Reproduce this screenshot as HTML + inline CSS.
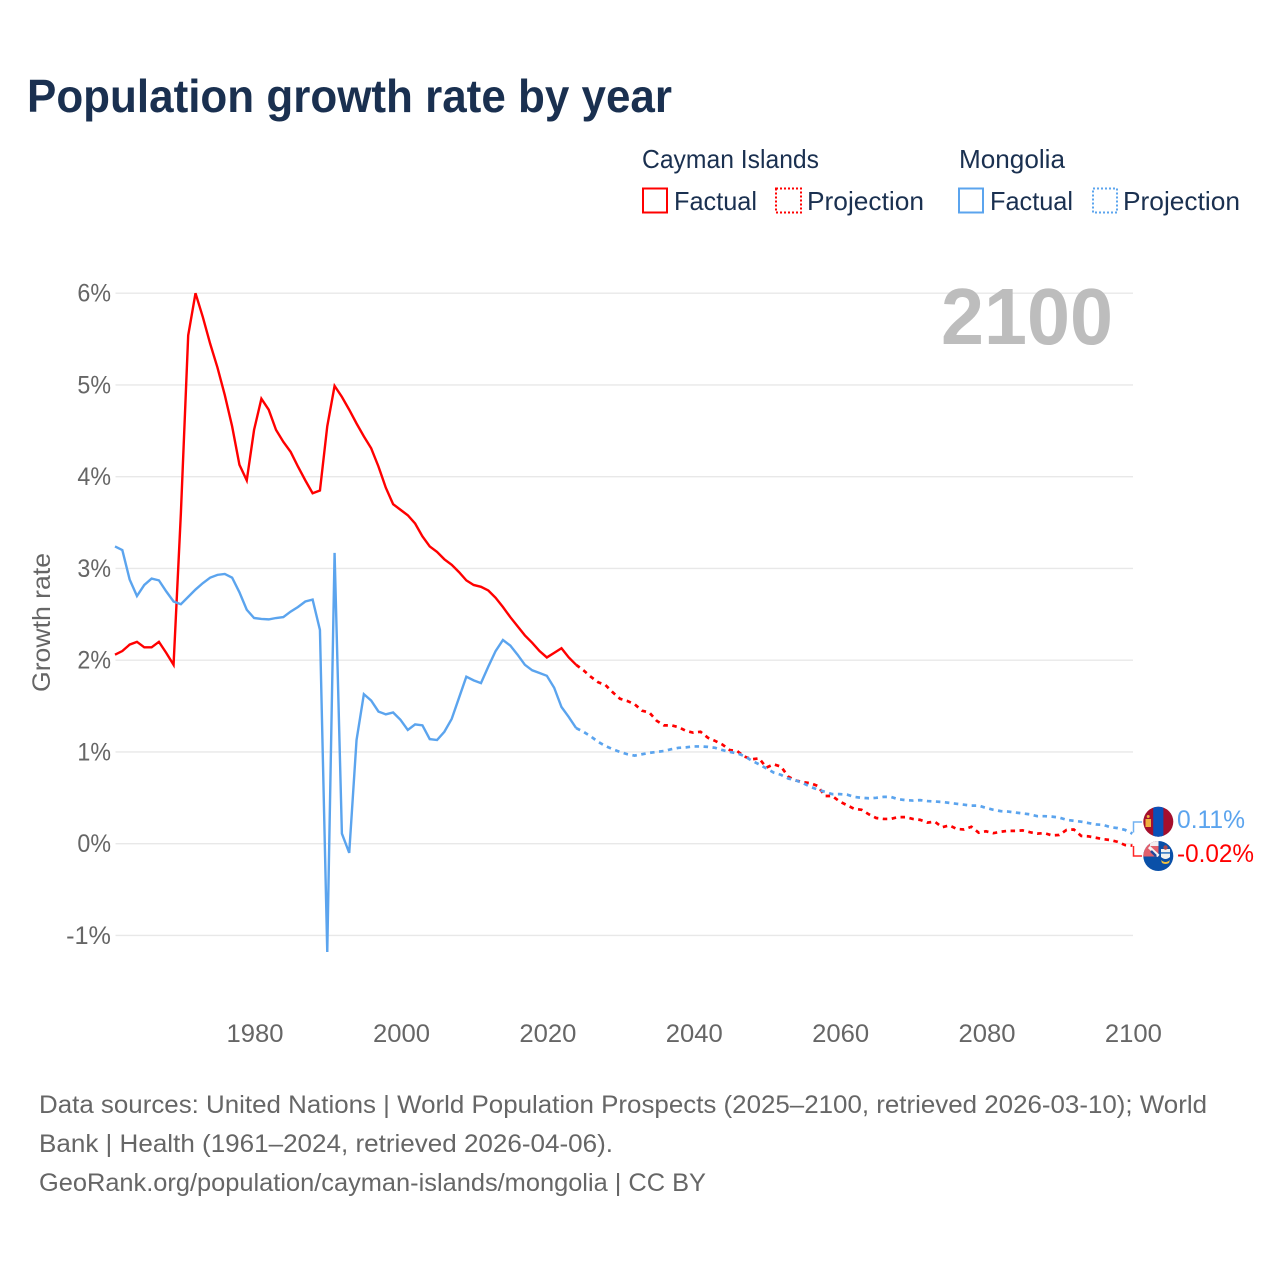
<!DOCTYPE html>
<html lang="en">
<head>
<meta charset="utf-8">
<title>Population growth rate by year</title>
<style>
html,body{margin:0;padding:0;background:#fff;width:1280px;height:1280px;overflow:hidden}
svg{display:block;font-family:"Liberation Sans",sans-serif}
</style>
</head>
<body>
<svg id="chart" xmlns="http://www.w3.org/2000/svg" width="1280" height="1280" viewBox="0 0 1280 1280">
  <rect width="1280" height="1280" fill="#fff"/>
  <text x="27" y="112" font-size="46" font-weight="700" fill="#1a3050" textLength="645" lengthAdjust="spacingAndGlyphs">Population growth rate by year</text>

  <g font-size="26" fill="#1a3050">
    <text x="642" y="168" textLength="177" lengthAdjust="spacingAndGlyphs">Cayman Islands</text>
    <text x="959" y="168" textLength="106" lengthAdjust="spacingAndGlyphs">Mongolia</text>
    <rect x="643" y="188.5" width="24" height="24" fill="none" stroke="#ff0000" stroke-width="2"/>
    <text x="674" y="210" textLength="83" lengthAdjust="spacingAndGlyphs">Factual</text>
    <rect x="776" y="188.5" width="25" height="24" fill="none" stroke="#ff0000" stroke-width="2" stroke-dasharray="2 2"/>
    <text x="807" y="210" textLength="117" lengthAdjust="spacingAndGlyphs">Projection</text>
    <rect x="959" y="188.5" width="24" height="24" fill="none" stroke="#5ba4ee" stroke-width="2"/>
    <text x="990" y="210" textLength="83" lengthAdjust="spacingAndGlyphs">Factual</text>
    <rect x="1093" y="188.5" width="24" height="24" fill="none" stroke="#5ba4ee" stroke-width="2" stroke-dasharray="2 2"/>
    <text x="1123" y="210" textLength="117" lengthAdjust="spacingAndGlyphs">Projection</text>
  </g>

  <g id="grid"></g>
  <g id="y-ticks" font-size="25" fill="#666"></g>
  <g id="x-ticks" font-size="25" fill="#666"></g>
  <text transform="translate(50 692) rotate(-90)" font-size="25" fill="#666" textLength="139" lengthAdjust="spacingAndGlyphs">Growth rate</text>
  <text x="941" y="344" font-size="80" font-weight="700" fill="#bdbdbd" textLength="172" lengthAdjust="spacingAndGlyphs">2100</text>

  <g id="series"></g>

  <path d="M1133.5 832.5V822H1142" fill="none" stroke="#5ba4ee" stroke-width="1.5" opacity=".85"/>
  <path d="M1133.5 846V856H1142" fill="none" stroke="#ff0000" stroke-width="1.5" opacity=".85"/>

  <defs>
    <clipPath id="clip-mn"><circle cx="1158.3" cy="821.7" r="15"/></clipPath>
    <clipPath id="clip-ky"><circle cx="1158.3" cy="856" r="15"/></clipPath>
  </defs>
  <g clip-path="url(#clip-mn)">
    <rect x="1143" y="806" width="31" height="31" fill="#a50f2d"/>
    <rect x="1153.2" y="806" width="10.2" height="31" fill="#0a50b8"/>
    <rect x="1145.5" y="819" width="5.5" height="8" fill="#f0b040"/>
    <circle cx="1148.2" cy="816.5" r="1.5" fill="#f0b040"/>
  </g>
  <g clip-path="url(#clip-ky)">
    <rect x="1143" y="841" width="31" height="31" fill="#0a50a8"/>
    <rect x="1143" y="841" width="15.5" height="15.5" fill="#e2606c"/>
    <path d="M1149 847L1158.5 856" stroke="#f4f4f6" stroke-width="3"/>
    <path d="M1151 851L1156 856" stroke="#24489a" stroke-width="2.5"/>
    <rect x="1150" y="841" width="8.5" height="5" fill="#f3eef0"/>
    <path d="M1161 849H1170V857Q1165.5 861 1161 857Z" fill="#f2f2ee"/>
    <rect x="1161" y="852" width="9" height="1.8" fill="#4a88c8"/>
    <circle cx="1165.5" cy="847.5" r="2.2" fill="#a84a50"/>
    <path d="M1161 860Q1165.5 864 1170 860L1169 863Q1165.5 865 1162 863Z" fill="#f0c040"/>
  </g>

  <text x="1177" y="828" font-size="25" fill="#5ba4ee" textLength="68" lengthAdjust="spacingAndGlyphs">0.11%</text>
  <text x="1177" y="862" font-size="25" fill="#ff0000" textLength="77" lengthAdjust="spacingAndGlyphs">-0.02%</text>

  <g font-size="25" fill="#666">
    <text x="39" y="1113" textLength="1168" lengthAdjust="spacingAndGlyphs">Data sources: United Nations | World Population Prospects (2025–2100, retrieved 2026-03-10); World</text>
    <text x="39" y="1152" textLength="574" lengthAdjust="spacingAndGlyphs">Bank | Health (1961–2024, retrieved 2026-04-06).</text>
    <text x="39" y="1191" textLength="667" lengthAdjust="spacingAndGlyphs">GeoRank.org/population/cayman-islands/mongolia | CC BY</text>
  </g>
</svg>
<script>
const factualStartYear = 1961;
const projectionStartYear = 2024;
const xTickYears = [1980, 2000, 2020, 2040, 2060, 2080, 2100];
const yTickValues = [-1, 0, 1, 2, 3, 4, 5, 6];
const yTickLabels = ['-1%', '0%', '1%', '2%', '3%', '4%', '5%', '6%'];

const caymanFactual = [2.06,2.10,2.17,2.20,2.14,2.14,2.20,2.08,1.95,3.60,5.54,6.00,5.74,5.45,5.19,4.89,4.55,4.13,3.96,4.51,4.85,4.73,4.51,4.38,4.27,4.11,3.96,3.82,3.85,4.55,4.99,4.87,4.73,4.58,4.44,4.31,4.11,3.88,3.70,3.64,3.58,3.49,3.35,3.24,3.18,3.10,3.04,2.96,2.87,2.82,2.80,2.76,2.68,2.58,2.47,2.37,2.27,2.19,2.10,2.03,2.08,2.13,2.03,1.95];
const mongoliaFactual = [3.24,3.20,2.88,2.70,2.82,2.89,2.87,2.75,2.64,2.61,2.69,2.77,2.84,2.90,2.93,2.94,2.90,2.74,2.55,2.46,2.45,2.445,2.46,2.47,2.53,2.58,2.64,2.66,2.33,-1.18,3.17,0.11,-0.10,1.13,1.63,1.56,1.44,1.41,1.43,1.35,1.24,1.30,1.29,1.14,1.13,1.22,1.36,1.59,1.82,1.78,1.75,1.93,2.10,2.22,2.16,2.06,1.95,1.89,1.86,1.83,1.70,1.49,1.38,1.26];
const caymanProjection = [1.95,1.89,1.82,1.76,1.73,1.65,1.58,1.555,1.52,1.45,1.43,1.34,1.29,1.29,1.27,1.23,1.21,1.22,1.155,1.12,1.08,1.02,1.01,0.95,0.92,0.93,0.83,0.865,0.84,0.73,0.69,0.67,0.66,0.63,0.52,0.52,0.46,0.42,0.38,0.37,0.32,0.28,0.27,0.27,0.29,0.29,0.27,0.26,0.23,0.24,0.18,0.20,0.16,0.155,0.185,0.12,0.135,0.115,0.13,0.14,0.14,0.145,0.125,0.11,0.115,0.09,0.095,0.15,0.155,0.085,0.08,0.065,0.05,0.04,0.02,-0.015,-0.02];
const mongoliaProjection = [1.26,1.22,1.17,1.11,1.065,1.03,1.00,0.975,0.96,0.975,0.99,1.00,1.01,1.03,1.045,1.05,1.06,1.06,1.055,1.045,1.02,1.00,0.985,0.955,0.905,0.865,0.82,0.775,0.75,0.71,0.69,0.66,0.62,0.59,0.565,0.54,0.54,0.535,0.51,0.50,0.495,0.50,0.51,0.51,0.485,0.475,0.47,0.475,0.465,0.46,0.455,0.445,0.435,0.425,0.415,0.415,0.39,0.37,0.355,0.35,0.34,0.33,0.32,0.30,0.30,0.295,0.285,0.26,0.25,0.24,0.225,0.21,0.205,0.18,0.17,0.15,0.11];

const NS = 'http://www.w3.org/2000/svg';
const plotLeft = 115, plotRight = 1132.4, plotWidthYears = 139;
const zeroY = 843.7, pxPerPercent = 91.75;
function xScale(year) { return plotRight - (2100 - year) * (plotRight - plotLeft) / plotWidthYears; }
function yScale(value) { return zeroY - value * pxPerPercent; }
function linePath(values, startYear) {
  return values.map(function (v, i) {
    return (i ? 'L' : 'M') + xScale(startYear + i).toFixed(2) + ' ' + yScale(v).toFixed(2);
  }).join('');
}

const gridGroup = document.getElementById('grid');
const yTickGroup = document.getElementById('y-ticks');
yTickValues.forEach(function (v, i) {
  const g = document.createElementNS(NS, 'line');
  
  
  g.setAttribute('x1', 115.5);
  g.setAttribute('x2', 1133);
  g.setAttribute('y1', yScale(v));
  g.setAttribute('y2', yScale(v));
  g.setAttribute('stroke', '#e8e8e8');
  g.setAttribute('stroke-width', '1.3');
  gridGroup.appendChild(g);
  const t = document.createElementNS(NS, 'text');
  
  
  t.setAttribute('x', 111);
  t.setAttribute('y', yScale(v) + 8.5);
  t.setAttribute('text-anchor', 'end');
  t.setAttribute('textLength', yTickLabels[i].length * 11.3 + 11);
  t.setAttribute('lengthAdjust', 'spacingAndGlyphs');
  t.textContent = yTickLabels[i];
  yTickGroup.appendChild(t);
});

const xTickGroup = document.getElementById('x-ticks');
xTickYears.forEach(function (year) {
  const t = document.createElementNS(NS, 'text');
  
  
  t.setAttribute('x', xScale(year) + 1);
  t.setAttribute('y', 1042);
  t.setAttribute('text-anchor', 'middle');
  t.setAttribute('textLength', 57);
  t.setAttribute('lengthAdjust', 'spacingAndGlyphs');
  t.textContent = String(year);
  xTickGroup.appendChild(t);
});

const seriesGroup = document.getElementById('series');
function addLine(name, values, startYear, color, dashed) {
  const p = document.createElementNS(NS, 'path');
  
  
  p.setAttribute('d', linePath(values, startYear));
  p.setAttribute('fill', 'none');
  p.setAttribute('stroke', color);
  p.setAttribute('stroke-width', dashed ? '2.7' : '2.4');
  p.setAttribute('stroke-linejoin', 'miter');
  if (dashed) p.setAttribute('stroke-dasharray', '4.5 4.5');
  seriesGroup.appendChild(p);
}
addLine('line-cayman-islands-factual', caymanFactual, factualStartYear, '#ff0000', false);
addLine('line-cayman-islands-projection', caymanProjection, projectionStartYear, '#ff0000', true);
addLine('line-mongolia-factual', mongoliaFactual, factualStartYear, '#5ba4ee', false);
addLine('line-mongolia-projection', mongoliaProjection, projectionStartYear, '#5ba4ee', true);
</script>
</body>
</html>
